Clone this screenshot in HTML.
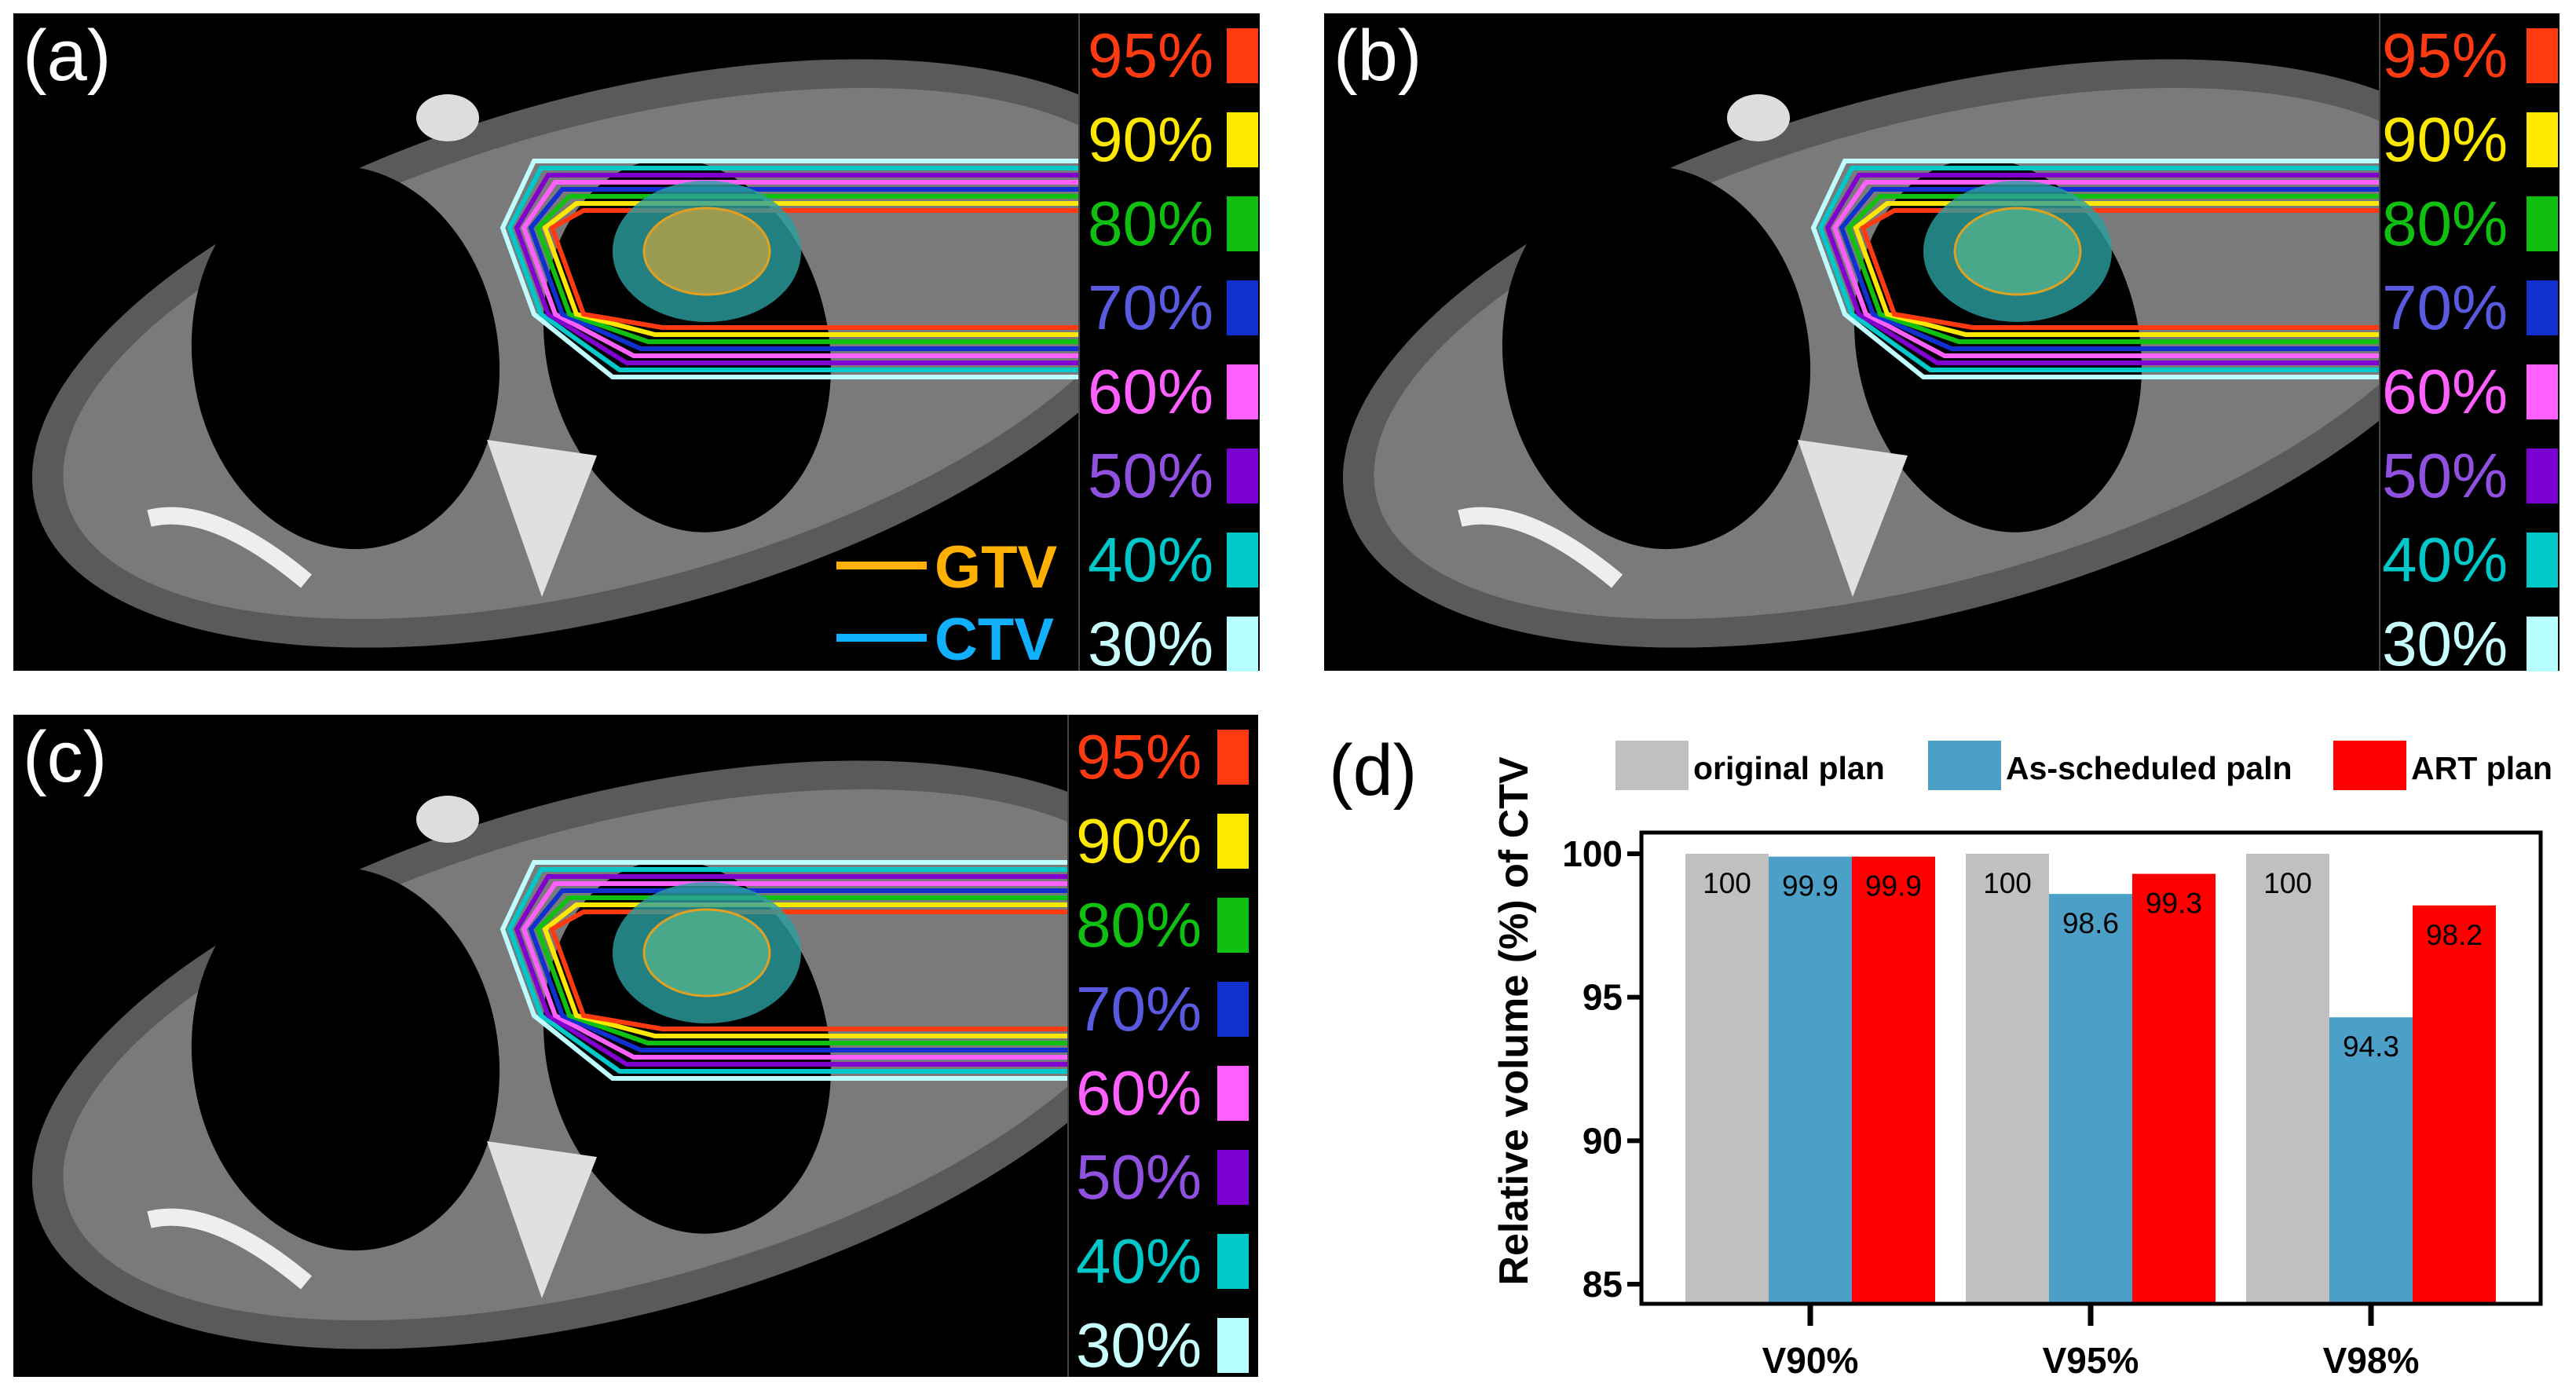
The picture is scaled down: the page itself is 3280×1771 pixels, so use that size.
<!DOCTYPE html>
<html><head><meta charset="utf-8"><style>
html,body{margin:0;padding:0;background:#fff;width:3280px;height:1771px;overflow:hidden}
svg{display:block}
text{font-family:"Liberation Sans",Arial,sans-serif}
</style></head><body>
<svg id="fig" width="3280" height="1771" viewBox="0 0 3280 1771" xmlns="http://www.w3.org/2000/svg">
  <g id="ct"></g>
  <g id="chart"></g>
</svg>
<script>
// ---- chart data ----
const categories = ["V90%","V95%","V98%"];
const seriesNames = ["original plan","As-scheduled paln","ART plan"];
const originalVals = [100,100,100];
const scheduledVals = [99.9,98.6,94.3];
const artVals = [99.9,99.3,98.2];
const yTicks = [85,90,95,100];
const doseLabels = ["95%","90%","80%","70%","60%","50%","40%","30%"];

const NS="http://www.w3.org/2000/svg";
function mk(parent,tag,attrs,txt){const e=document.createElementNS(NS,tag);for(const k in attrs)e.setAttribute(k,attrs[k]);if(txt!==undefined)e.textContent=txt;parent.appendChild(e);return e;}

// ---- CT panels ----
const ct=document.getElementById('ct');
const boxCols=["#ff3a10","#ffe800","#10c010","#1030d0","#ff60ff","#7a00d0","#00c8c8","#b8ffff"];
const txtCols=["#ff3a10","#ffe800","#10c010","#5a5ae0","#ff60ff","#9050e0","#00c8c8","#c8ffff"];
const panels=[
 {id:"a",x:17,y:17,w:1587,h:837,lx:1374,tx:1385,bx:1562,label:"(a)"},
 {id:"b",x:1686,y:17,w:1573,h:837,lx:3030,tx:3033,bx:3217,label:"(b)"},
 {id:"c",x:17,y:910,w:1585,h:843,lx:1360,tx:1370,bx:1550,label:"(c)"}
];
panels.forEach((p,pi)=>{
  const g=mk(ct,'g',{});
  
  
  mk(g,'rect',{x:p.x,y:p.y,width:p.w,height:p.h,fill:'#000'});
  const cl='clip'+p.id;
  const cp=mk(g,'clipPath',{id:cl});
  mk(cp,'rect',{x:p.x,y:p.y,width:p.lx-p.x,height:p.h});
  const b=mk(g,'g',{'clip-path':`url(#${cl})`});
  const ox=p.x-17, oy=p.y-17;
  const cx=ox+780, cy=oy+450;
  mk(b,'ellipse',{cx:cx,cy:cy,rx:760,ry:330,fill:'#5a5a5a',transform:`rotate(-15 ${cx} ${cy})`});
  mk(b,'ellipse',{cx:cx,cy:cy,rx:720,ry:292,fill:'#7a7a7a',transform:`rotate(-15 ${cx} ${cy})`});
  mk(b,'ellipse',{cx:ox+440,cy:oy+455,rx:195,ry:245,fill:'#000',transform:`rotate(-8 ${ox+440} ${oy+455})`});
  mk(b,'ellipse',{cx:ox+875,cy:oy+440,rx:180,ry:240,fill:'#000',transform:`rotate(-12 ${ox+875} ${oy+440})`});
  mk(b,'path',{d:`M${ox+620} ${oy+560} L${ox+690} ${oy+760} L${ox+760} ${oy+580} Z`,fill:'#e0e0e0'});
  mk(b,'path',{d:`M${ox+190} ${oy+660} q80 -20 200 80`,stroke:'#eee','stroke-width':22,fill:'none'});
  mk(b,'ellipse',{cx:ox+570,cy:oy+150,rx:40,ry:30,fill:'#ddd'});
  // dose contours
  const cols=["#c0ffff","#00c8c8","#8000d0","#ff60ff","#1030d0","#10c010","#ffe800","#ff3a10"];
  cols.forEach((c,i)=>{
    const d=i*9;
    mk(b,'path',{d:`M${p.lx} ${oy+205+d} L${ox+680+d} ${oy+205+d} L${ox+640+d} ${oy+290} L${ox+680+d} ${oy+400} L${ox+780+d} ${oy+480-d} L${p.lx} ${oy+480-d}`,stroke:c,'stroke-width':6,fill:'none'});
  });
  mk(b,'ellipse',{cx:ox+900,cy:oy+320,rx:120,ry:90,fill:'#2aa0a0',opacity:0.8});
  mk(b,'ellipse',{cx:ox+900,cy:oy+320,rx:80,ry:55,fill:pi==0?'#9a9a50':'#4aa88a',stroke:'#e0a020','stroke-width':3});
  // legend strip
  mk(g,'line',{x1:p.lx,y1:p.y,x2:p.lx,y2:p.y+p.h,stroke:'#444','stroke-width':2});
  doseLabels.forEach((t,i)=>{
    const cyy=p.y+52+i*107;
    const tx=mk(g,'text',{x:p.tx,y:cyy+29,fill:txtCols[i],'font-size':80},t);
    
    
    const r=mk(g,'rect',{x:p.bx,y:cyy-33,width:40,height:70,fill:boxCols[i]});
    
    
  });
  const pl=mk(g,'text',{x:p.x+12,y:p.y+85,fill:'#fff','font-size':92},p.label);
  
  
  if(p.id==="a"){
    mk(g,'line',{x1:1065,y1:720,x2:1180,y2:720,stroke:'#ffb000','stroke-width':10});
    const t1=mk(g,'text',{x:1190,y:748,fill:'#ffb000','font-size':76,'font-weight':'bold'},'GTV');
    
    mk(g,'line',{x1:1065,y1:812,x2:1180,y2:812,stroke:'#10b0ff','stroke-width':10});
    const t2=mk(g,'text',{x:1190,y:840,fill:'#10b0ff','font-size':76,'font-weight':'bold'},'CTV');
    
  }
});

// ---- bar chart ----
const ch=document.getElementById('chart');
const L=2090,R=3235,T=1060,B=1660;
const yMin=85,yMax=100,y85=1635,y100=1087;
function ys(v){return y85+(v-yMin)*(y100-y85)/(yMax-yMin);}
const groupW=357, barW=106, firstGroupStart=2146;
function xs(ci,si){return firstGroupStart+ci*groupW+si*barW;}
const series=[originalVals,scheduledVals,artVals];
const barCols=["#c0c0c0","#4ca0c8","#ff0000"];
series.forEach((vals,si)=>{
  vals.forEach((v,ci)=>{
    const x=xs(ci,si), y=ys(v);
    const r=mk(ch,'rect',{x:x,y:y,width:barW,height:B-y,fill:barCols[si]});
    
    
    const t=mk(ch,'text',{x:x+barW/2,y:y+50,'text-anchor':'middle','font-size':37,fill:'#000'},String(v));
    
    
  });
});
const frame=mk(ch,'rect',{x:L,y:T,width:R-L,height:B-T,fill:'none',stroke:'#000','stroke-width':5});


yTicks.forEach(v=>{
  const y=ys(v);
  mk(ch,'line',{x1:L-18,y1:y,x2:L,y2:y,stroke:'#000','stroke-width':6});
  const t=mk(ch,'text',{x:L-24,y:y+16,'text-anchor':'end','font-size':46,'font-weight':'bold'},String(v));
  
  
});
categories.forEach((c,ci)=>{
  const x=xs(ci,1)+barW/2;
  mk(ch,'line',{x1:x,y1:B,x2:x,y2:B+28,stroke:'#000','stroke-width':7});
  const t=mk(ch,'text',{x:x,y:1748,'text-anchor':'middle','font-size':46,'font-weight':'bold'},c);
  
  
});
const yt=mk(ch,'text',{x:0,y:0,'text-anchor':'middle','font-size':52,'font-weight':'bold',transform:'translate(1945 1300) rotate(-90)'},'Relative volume (%) of CTV');


const dl=mk(ch,'text',{x:1692,y:1012,'font-size':92},'(d)');


const legX=[2057,2455,2971];
seriesNames.forEach((n,i)=>{
  const r=mk(ch,'rect',{x:legX[i],y:943,width:93,height:63,fill:barCols[i]});
  
  
  const t=mk(ch,'text',{x:legX[i]+99,y:992,'font-size':41,'font-weight':'bold'},n);
  
  
});
</script>
</body></html>
